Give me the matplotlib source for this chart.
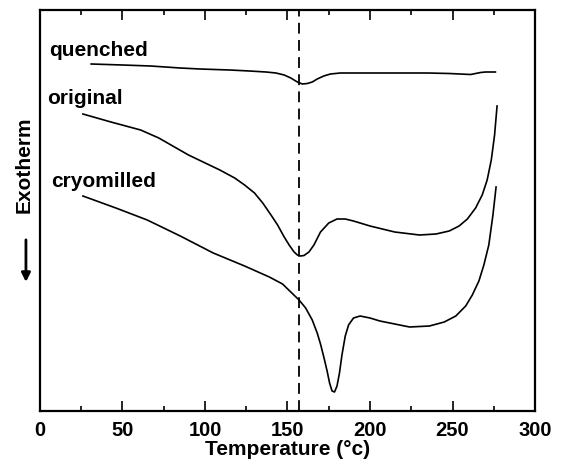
import numpy as np
import matplotlib.pyplot as plt
from matplotlib.ticker import MultipleLocator

# DSC traces, heat flow in arbitrary units (exotherm down)
t_quenched = [31, 50, 67, 85, 97, 115, 127, 137, 143, 148, 152, 156, 159, 162, 165, 168,
              172, 176, 182, 200, 218, 235, 248, 261, 264, 267, 270, 276]
hf_quenched = [339, 338, 337, 335, 334, 333, 332, 331, 330, 328, 325, 321, 319, 319.5, 321,
               324, 327, 329, 330, 330, 330, 330, 329.5, 328.5, 329.5, 330.5, 331, 331]

t_original = [26, 43, 61, 72, 90, 109, 118, 124, 130, 135, 140, 144, 148, 151, 154, 156,
              158, 160, 163, 166, 170, 175, 180, 185, 190, 200, 215, 230, 240, 248, 254,
              259, 264, 268, 271, 273.5, 275.5, 277]
hf_original = [289, 281, 273, 265, 248, 233, 225, 218, 210, 200, 188, 178, 166, 158, 151, 148,
               147, 147.5, 151, 158, 171, 180, 184, 184, 182, 177, 171, 168, 169, 172, 177,
               184, 195, 208, 223, 243, 268, 297]

t_cryo = [26, 46, 65, 85, 105, 124, 139, 147, 152, 157, 161, 165, 168, 170, 172, 174, 175.5,
          177, 178.5, 180, 181.5, 183, 185, 187, 190, 194, 200, 206, 215, 224, 236, 245,
          252, 258, 262, 266, 269, 272, 274.5, 276.4]
hf_cryo = [207, 195, 183, 167, 150, 137, 126, 119, 111, 103, 95, 83, 70, 59, 46, 32, 20,
           12, 11, 17, 30, 48, 67, 78, 85, 87, 85, 82, 79, 76, 77, 81, 87, 97, 108, 122,
           138, 158, 188, 216]

onset_T = 157

plt.rcParams['font.family'] = ['Liberation Sans', 'DejaVu Sans']
plt.rcParams['font.weight'] = 'bold'

fig = plt.figure(figsize=(5.64, 4.63), dpi=100)
ax = fig.add_axes([0.0709, 0.1123, 0.8777, 0.8661])

for t, hf in [(t_quenched, hf_quenched), (t_original, hf_original), (t_cryo, hf_cryo)]:
    ax.plot(t, hf, color='black', lw=1.2, solid_joinstyle='round')

ax.axvline(onset_T, color='black', lw=1.3, ls=(0, (6, 3.5)))

label_kw = dict(fontsize=15, fontweight='bold', va='center', ha='left')
ax.text(5.5, 353, 'quenched', **label_kw)
ax.text(4.5, 305, 'original', **label_kw)
ax.text(6.5, 222, 'cryomilled', **label_kw)

ax.set_xlim(0, 300)
ax.set_ylim(-8, 393)
ax.xaxis.set_major_locator(MultipleLocator(50))
ax.xaxis.set_minor_locator(MultipleLocator(25))
ax.tick_params(axis='x', which='major', direction='in', length=7, width=1.2,
               top=True, labelsize=14.5, pad=7)
ax.tick_params(axis='x', which='minor', direction='in', length=3.6, width=1.2, top=True)
ax.set_yticks([])
for lbl in ax.get_xticklabels():
    lbl.set_fontweight('bold')
for s in ax.spines.values():
    s.set_linewidth(1.6)

ax.set_xlabel('Temperature (°c)', fontsize=15, fontweight='bold', labelpad=0)

# y label with downward arrow
fig.text(0.043, 0.645, 'Exotherm', rotation=90, fontsize=15, fontweight='bold',
         ha='center', va='center')
ax.annotate('', xy=(0.046, 0.385), xytext=(0.046, 0.488), xycoords='figure fraction',
            textcoords='figure fraction', annotation_clip=False,
            arrowprops=dict(arrowstyle='-|>', color='black', lw=2, mutation_scale=13))

fig.savefig('out.png', dpi=100)
